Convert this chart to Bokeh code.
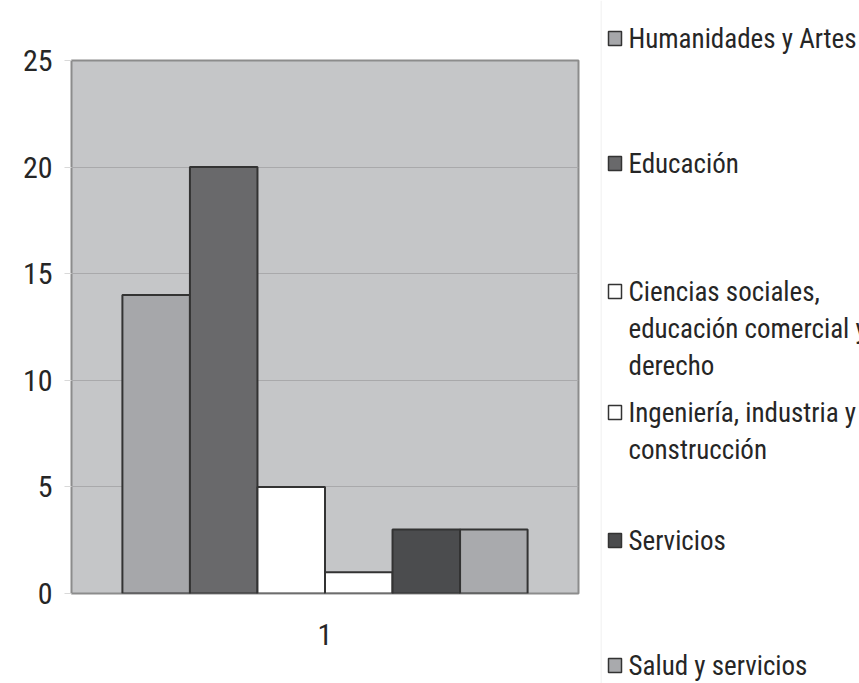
from bokeh.plotting import figure
from bokeh.layouts import row
from bokeh.models import Range1d, FixedTicker, ColumnDataSource, Span
from bokeh.embed import file_html
from bokeh.resources import INLINE
from bokeh.core.properties import value

# ---- data ----
categories = ["Humanidades y Artes", "Educación",
              "Ciencias sociales,\neducación comercial y\nderecho",
              "Ingeniería, industria y\nconstrucción",
              "Servicios", "Salud y servicios"]
values = [14, 20, 5, 1, 3, 3]
colors = ["#a6a7aa", "#69696b", "#ffffff", "#ffffff", "#4b4c4e", "#a9aaad"]
y_ticks = [0, 5, 10, 15, 20, 25]
x_tick_label = "1"

FONT = "Liberation Sans Narrow, Arial Narrow, Roboto Condensed, sans-serif"
TXT = "#262626"

# ---- main chart ----
n = len(values)
bw = 0.1332
xs = [0.5 + (i - (n - 1) / 2) * bw for i in range(n)]
src = ColumnDataSource(dict(x=xs, top=values, color=colors))

p = figure(width=600, height=683, x_range=Range1d(0, 1), y_range=Range1d(0, 25),
           output_backend="svg", toolbar_location=None,
           min_border_left=71, min_border_right=22, min_border_top=60, min_border_bottom=90)
p.frame_align = False
p.background_fill_color = "#c5c6c8"
p.border_fill_color = "white"
p.outline_line_color = "#8c8c8c"
p.outline_line_width = 2

p.vbar(x="x", top="top", bottom=0, width=bw, fill_color="color",
       line_color="#333333", line_width=2, source=src)

p.xgrid.visible = False
p.ygrid.grid_line_color = "#a9a9ab"
p.ygrid.grid_line_width = 1
p.yaxis.ticker = FixedTicker(ticks=y_ticks)
p.yaxis.minor_tick_line_color = None
p.yaxis.major_tick_in = 0
p.yaxis.major_tick_out = 7
p.yaxis.major_tick_line_color = "#d9d9d9"
p.yaxis.axis_line_color = None
p.yaxis.major_label_standoff = 12
p.yaxis.major_label_text_font = FONT
p.yaxis.major_label_text_font_size = "30px"
p.yaxis.major_label_text_color = TXT

p.xaxis.ticker = FixedTicker(ticks=[0.5])
p.xaxis.major_label_overrides = {0.5: x_tick_label}
p.xaxis.minor_tick_line_color = None
p.xaxis.major_tick_in = 0
p.xaxis.major_tick_out = 0
p.xaxis.axis_line_color = None
p.xaxis.major_label_standoff = 30
p.xaxis.major_label_text_font = FONT
p.xaxis.major_label_text_font_size = "30px"
p.xaxis.major_label_text_color = TXT

# ---- legend panel ----
leg = figure(width=259, height=683, x_range=Range1d(0, 259), y_range=Range1d(683, 0),
             output_backend="svg", toolbar_location=None,
             min_border=0, min_border_left=0, min_border_right=0,
             min_border_top=0, min_border_bottom=0)
leg.frame_align = False
leg.axis.visible = False
leg.grid.visible = False
leg.outline_line_color = None
leg.background_fill_color = "white"
leg.border_fill_color = "white"
leg.add_layout(Span(location=0.5, dimension="height", line_color="#ececec", line_width=1))

# layout of legend rows (first-line centers, in panel pixels)
row_centers = [38, 163, 291, 412, 540, 665]
lsrc = ColumnDataSource(dict(
    mx=[14.5] * n, my=row_centers, color=colors,
    tx=[28] * n, ty=[c - 16 for c in row_centers], label=categories))
leg.rect(x="mx", y="my", width=13, height=14, fill_color="color",
         line_color="#333333", line_width=1.5, source=lsrc)
leg.text(x="tx", y="ty", text="label", text_font=value(FONT), text_font_size="27px",
         text_color=TXT, text_baseline="top", text_align="left",
         text_line_height=1.17, source=lsrc)

layout = row(p, leg, spacing=0)
open("out.html", "w").write(file_html(layout, INLINE))
